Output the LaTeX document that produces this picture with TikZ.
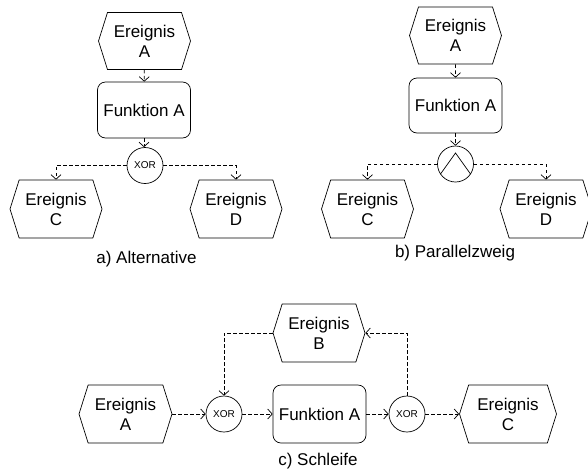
\documentclass[tikz,border=0pt]{standalone}
\usepackage{fontspec}
\setmainfont{Liberation Sans}
\usetikzlibrary{shapes.symbols,arrows.meta}
\begin{document}
\begin{tikzpicture}[x=1pt,y=-1pt,
  every node/.style={font=\fontsize{17}{20}\selectfont},
  evt/.style={signal, signal to=east and west, signal pointer angle=145, draw, line width=0.7pt,
     minimum width=92pt, minimum height=57pt, inner sep=0pt, align=center},
  fkt/.style={draw, rounded corners=8pt, line width=0.7pt, minimum width=93pt, minimum height=56pt, inner sep=0pt, align=center},
  conn/.style={circle, draw, line width=0.7pt, minimum size=36pt, inner sep=0pt, font=\fontsize{10}{11}\selectfont},
  flow/.style={line width=0.7pt, dash pattern=on 3.5pt off 2.5pt, -{Straight Barb[length=4.5pt,width=10pt,line width=0.7pt]}},
  captxt/.style={anchor=base, font=\fontsize{17}{20}\selectfont}]
\useasboundingbox (0,0) rectangle (588,469);
% panel a
\node[evt] (aA) at (144.5,41) {Ereignis\\A};
\node[fkt] (aF) at (144,110) {Funktion A};
\node[conn] (aX) at (145,165.5) {XOR};
\node[evt, minimum height=58pt] (aC) at (56,209) {Ereignis\\C};
\node[evt, minimum height=58pt] (aD) at (236,209) {Ereignis\\D};
\node[captxt] (acap) at (146.5,263) {a) Alternative};
\draw[flow] (aA) -- (aF);
\draw[flow] (aF.south) -- (aX.north -| aF.south);
\draw[flow] (aX.west) -| (aC.north);
\draw[flow] (aX.east) -| (aD.north);
% panel b
\node[evt] (bA) at (455.5,35.5) {Ereignis\\A};
\node[fkt, minimum height=55pt] (bF) at (455.5,105.5) {Funktion A};
\node[conn] (bN) at (455.5,164) {};
\draw[line width=0.7pt] ([shift={(-15,10)}]bN.center) -- ([shift={(0,-11)}]bN.center) -- ([shift={(15,10)}]bN.center);
\node[evt, minimum height=58pt] (bC) at (367.5,209) {Ereignis\\C};
\node[evt, minimum height=58pt] (bD) at (546,209) {Ereignis\\D};
\node[captxt] (bcap) at (455,257) {b) Parallelzweig};
\draw[flow] (bA) -- (bF);
\draw[flow] (bF) -- (bN);
\draw[flow] (bN.west) -| (bC.north);
\draw[flow] (bN.east) -| (bD.north);
% panel c
\node[evt, minimum height=58pt] (cB) at (319,333) {Ereignis\\B};
\node[evt, minimum height=58pt, minimum width=93pt] (cA) at (125.5,414) {Ereignis\\A};
\node[conn] (cX1) at (224,414) {XOR};
\node[fkt, minimum height=58pt] (cF) at (319.5,414) {Funktion A};
\node[conn] (cX2) at (407,414) {XOR};
\node[evt, minimum height=58pt, minimum width=97pt] (cC) at (508,414) {Ereignis\\C};
\node[captxt] (ccap) at (318,465) {c) Schleife};
\draw[flow] (cA.east) -- (cX1.west);
\draw[flow] (cX1.east) -- (cF.west);
\draw[flow] (cF.east) -- (cX2.west);
\draw[flow] (cX2.east) -- (cC.west);
\draw[flow] (cX2.north) |- (cB.east);
\draw[flow] (cB.west) -| (cX1.north);
\end{tikzpicture}
\end{document}
